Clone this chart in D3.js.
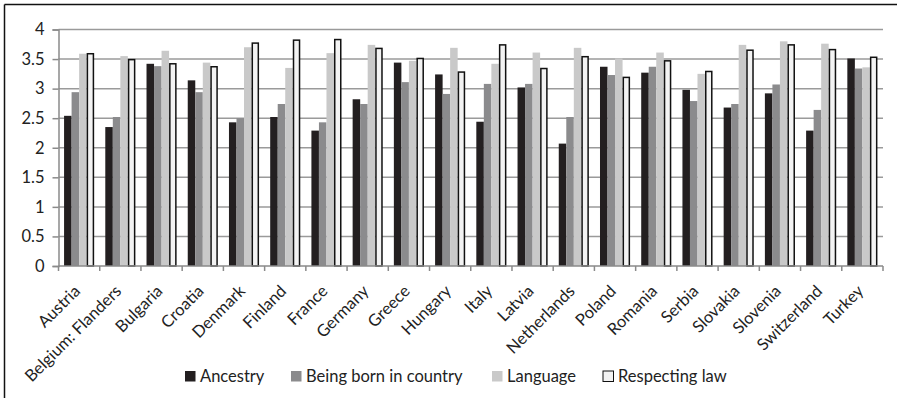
<!DOCTYPE html>
<meta charset="utf-8">
<script src="https://d3js.org/d3.v7.min.js"></script>
<style>
  body { margin: 0; background: #fff; }
  text { font-family: Lato, "Open Sans", sans-serif; fill: #222; }
</style>
<div id="my_dataviz"></div>
<script>
    // categories and series
    var countries = ["Austria", "Belgium: Flanders", "Bulgaria", "Croatia", "Denmark", "Finland",
                     "France", "Germany", "Greece", "Hungary", "Italy", "Latvia", "Netherlands",
                     "Poland", "Romania", "Serbia", "Slovakia", "Slovenia", "Switzerland", "Turkey"];
    var seriesNames = ["Ancestry", "Being born in country", "Language", "Respecting law"];
    var ancestry = [2.54, 2.35, 3.42, 3.14, 2.43, 2.52, 2.29, 2.82, 3.44, 3.24,
                    2.44, 3.02, 2.07, 3.37, 3.27, 2.98, 2.68, 2.92, 2.29, 3.51];
    var bornIn   = [2.94, 2.52, 3.38, 2.94, 2.50, 2.74, 2.43, 2.74, 3.11, 2.91,
                    3.08, 3.08, 2.52, 3.23, 3.37, 2.79, 2.74, 3.07, 2.64, 3.34];
    var language = [3.59, 3.55, 3.64, 3.44, 3.70, 3.35, 3.60, 3.74, 3.47, 3.69,
                    3.42, 3.61, 3.69, 3.51, 3.61, 3.25, 3.74, 3.80, 3.76, 3.36];
    var law      = [3.59, 3.49, 3.42, 3.37, 3.77, 3.82, 3.83, 3.68, 3.51, 3.28,
                    3.74, 3.34, 3.54, 3.19, 3.47, 3.29, 3.65, 3.74, 3.66, 3.53];
    var yTicks = [0, 0.5, 1, 1.5, 2, 2.5, 3, 3.5, 4];

    var allSeries = [ancestry, bornIn, language, law];
    var fills = ["#231f20", "#8b8b8d", "#c9c9c9", "#f3f3f3"];

    var W = 897, H = 398;
    var margin = {top: 29.5, right: 14, bottom: 132, left: 58.5},
        width = W - margin.left - margin.right,
        height = H - margin.top - margin.bottom;

    var root = d3.select("#my_dataviz")
      .append("svg")
        .attr("width", W)
        .attr("height", H);

    // frame (only top and left visible in the picture)
    root.append("line").attr("x1", 4.5).attr("x2", W).attr("y1", 4.5).attr("y2", 4.5)
        .attr("stroke", "#111").attr("stroke-width", 1.5);
    root.append("line").attr("x1", 4.5).attr("x2", 4.5).attr("y1", 4.5).attr("y2", H)
        .attr("stroke", "#111").attr("stroke-width", 1.5);

    var svg = root.append("g")
        .attr("transform", "translate(" + margin.left + "," + margin.top + ")");

    var x = d3.scaleBand()
      .domain(countries)
      .range([0, width])
      .paddingInner(0.27)
      .paddingOuter(0.135);

    var xs = d3.scaleBand()
      .domain(d3.range(4))
      .range([0, x.bandwidth()]);

    var y = d3.scaleLinear()
      .domain([0, 4])
      .range([height, 0]);

    // gridlines
    svg.append("g")
      .selectAll("line")
      .data(yTicks.slice(1))
      .enter().append("line")
        .attr("x1", 0).attr("x2", width)
        .attr("y1", function(d){ return y(d) }).attr("y2", function(d){ return y(d) })
        .attr("stroke", "#9a9a9a").attr("stroke-width", 1.5);

    // y axis
    var yAxis = svg.append("g")
      .call(d3.axisLeft(y).tickValues(yTicks).tickSize(6).tickPadding(8)
        .tickFormat(function(d){ return d3.format("")(d) }));
    yAxis.select(".domain").attr("stroke", "#8a8a8a").attr("stroke-width", 1.5);
    yAxis.selectAll(".tick line").attr("stroke", "#8a8a8a").attr("stroke-width", 1.5);
    yAxis.selectAll(".tick text").style("font-size", "16.5px").attr("fill", "#222");

    // bars
    var groups = svg.append("g")
      .selectAll("g")
      .data(countries)
      .enter().append("g")
        .attr("transform", function(d){ return "translate(" + x(d) + ",0)" });

    groups.selectAll("rect")
      .data(function(d, i){ return allSeries.map(function(s, k){ return {k: k, v: s[i]} }) })
      .enter().append("rect")
        .attr("x", function(d){ return xs(d.k) + (d.k == 3 ? 0.75 : 0) })
        .attr("width", function(d){ return xs.bandwidth() - (d.k == 3 ? 1.5 : 0) })
        .attr("y", function(d){ return y(d.v) })
        .attr("height", function(d){ return height - y(d.v) })
        .attr("fill", function(d){ return fills[d.k] })
        .attr("stroke", function(d){ return d.k == 3 ? "#111" : "none" })
        .attr("stroke-width", 1.5);

    // x axis
    var step = x.step();
    var xAxisG = svg.append("g")
      .attr("transform", "translate(0," + height + ")");
    xAxisG.append("line")
      .attr("x1", 0).attr("x2", width)
      .attr("stroke", "#8a8a8a").attr("stroke-width", 1.5);
    xAxisG.selectAll("line.tk")
      .data(d3.range(countries.length + 1))
      .enter().append("line")
        .attr("class", "tk")
        .attr("x1", function(i){ return i * step }).attr("x2", function(i){ return i * step })
        .attr("y1", 0).attr("y2", 5)
        .attr("stroke", "#8a8a8a").attr("stroke-width", 1.5);
    xAxisG.selectAll("text")
      .data(countries)
      .enter().append("text")
        .attr("transform", function(d){
          return "translate(" + (x(d) + x.bandwidth() / 2 - 2) + ",22) rotate(-45)" })
        .attr("text-anchor", "end")
        .attr("dy", "0.35em")
        .style("font-size", "16.5px")
        .text(function(d){ return d });

    // legend
    var legendX = [185, 291, 492, 603];
    var legend = root.append("g");
    seriesNames.forEach(function(name, k) {
      legend.append("rect")
        .attr("x", legendX[k]).attr("y", 371)
        .attr("width", 10.5).attr("height", 10.5)
        .attr("fill", fills[k])
        .attr("stroke", k == 3 ? "#111" : "none")
        .attr("stroke-width", 1);
      legend.append("text")
        .attr("x", legendX[k] + 15).attr("y", 381.5)
        .style("font-size", "16.5px")
        .text(name);
    });
</script>
